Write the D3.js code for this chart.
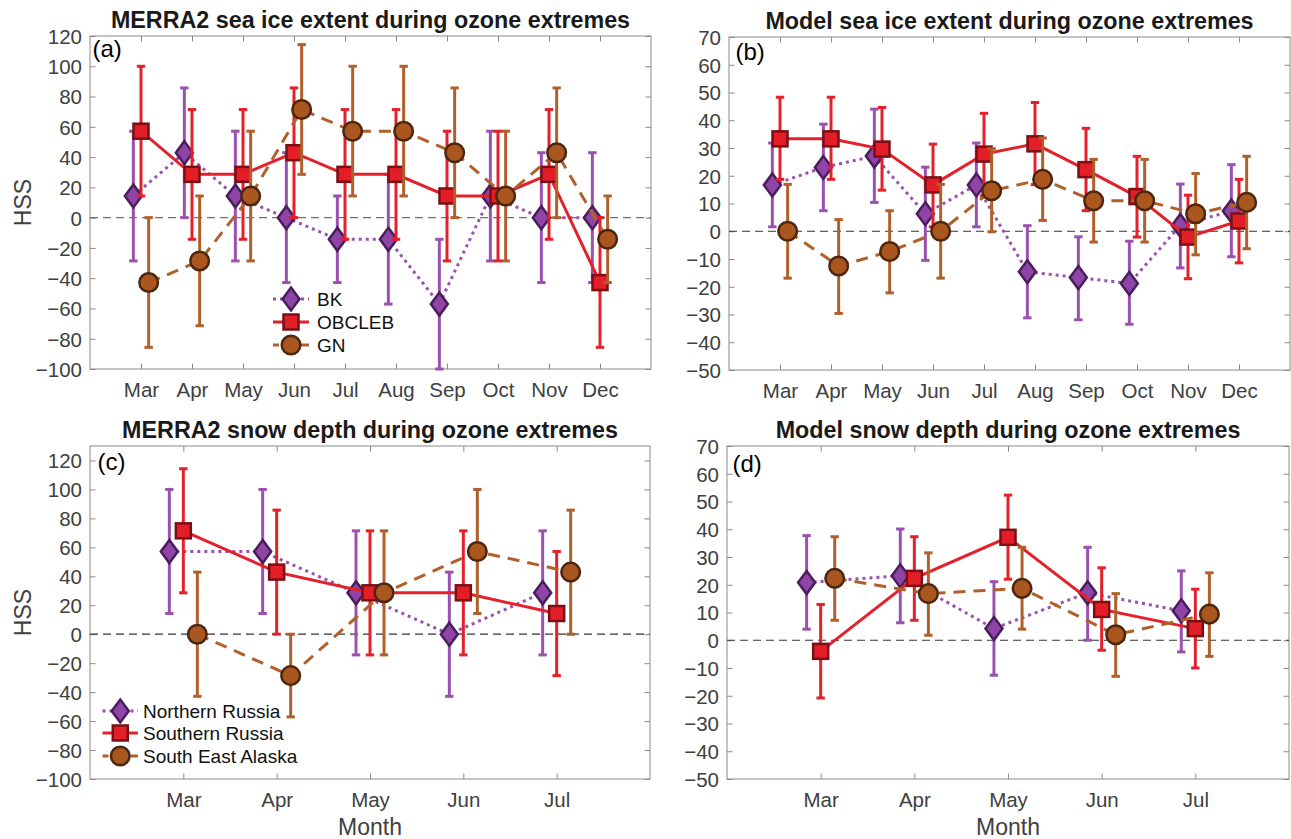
<!DOCTYPE html>
<html><head><meta charset="utf-8">
<script src="https://cdn.jsdelivr.net/npm/d3@7"></script>
<style>
body{margin:0;background:#fff;}
svg{display:block;font-family:"Liberation Sans",Arial,Helvetica,sans-serif;}
</style>
</head><body>
<svg id="chart" width="1291" height="839"></svg>
<script>
// ---------------- DATA ----------------
const monthsIce  = ["Mar","Apr","May","Jun","Jul","Aug","Sep","Oct","Nov","Dec"];
const monthsSnow = ["Mar","Apr","May","Jun","Jul"];
const namesIce   = ["BK","OBCLEB","GN"];
const namesSnow  = ["Northern Russia","Southern Russia","South East Alaska"];
const ticksIceObs  = [120,100,80,60,40,20,0,-20,-40,-60,-80,-100];
const ticksModel   = [70,60,50,40,30,20,10,0,-10,-20,-30,-40,-50];
const ticksSnowObs = [120,100,80,60,40,20,0,-20,-40,-60,-80,-100];

// (a) MERRA2 sea ice extent
const aBK    = [14.3, 42.9, 14.3, 0, -14.3, -14.3, -57.1, 14.3, 0, 0];
const aBKlo  = [-28.6, 0, -28.6, -42.9, -42.9, -57.1, -100, -28.6, -42.9, -42.9];
const aBKhi  = [57.1, 85.7, 57.1, 42.9, 14.3, 28.6, -14.3, 57.1, 42.9, 42.9];
const aOB    = [57.1, 28.6, 28.6, 42.9, 28.6, 28.6, 14.3, 14.3, 28.6, -42.9];
const aOBlo  = [14.3, -14.3, -14.3, 0, -14.3, -14.3, -28.6, -28.6, -14.3, -85.7];
const aOBhi  = [100, 71.4, 71.4, 85.7, 71.4, 71.4, 57.1, 57.1, 71.4, 0];
const aGN    = [-42.9, -28.6, 14.3, 71.4, 57.1, 57.1, 42.9, 14.3, 42.9, -14.3];
const aGNlo  = [-85.7, -71.4, -28.6, 28.6, 14.3, 14.3, 0, -28.6, 0, -42.9];
const aGNhi  = [0, 14.3, 57.1, 114.3, 100, 100, 85.7, 57.1, 85.7, 14.3];

// (b) Model sea ice extent
const bBK    = [16.7, 23.0, 27.1, 6.3, 16.7, -14.6, -16.7, -18.8, 2.1, 7.3];
const bBKlo  = [1.6, 7.4, 10.4, -10.5, 1.6, -31.2, -31.9, -33.5, -13.2, -9.2];
const bBKhi  = [31.8, 38.6, 44.0, 23.1, 31.8, 2.0, -2.0, -3.6, 17.0, 24.0];
const bOB    = [33.3, 33.3, 29.6, 16.7, 27.8, 31.5, 22.2, 12.5, -2.1, 3.7];
const bOBlo  = [18.7, 18.7, 14.8, 1.6, 12.6, 16.8, 7.4, -2.1, -17.1, -11.4];
const bOBhi  = [48.3, 48.3, 44.6, 31.4, 42.5, 46.4, 37.1, 27.0, 13.0, 18.7];
const bGN    = [0, -12.5, -7.3, 0, 14.6, 18.7, 11.0, 11.0, 6.3, 10.4];
const bGNlo  = [-16.9, -29.6, -22.2, -16.9, -0.2, 3.9, -3.9, -3.9, -8.5, -6.3];
const bGNhi  = [16.9, 4.2, 7.4, 16.9, 29.7, 33.6, 25.9, 25.9, 20.8, 27.0];

// (c) MERRA2 snow depth
const cNR    = [57.1, 57.1, 28.6, 0, 28.6];
const cNRlo  = [14.3, 14.3, -14.3, -42.9, -14.3];
const cNRhi  = [100, 100, 71.4, 42.9, 71.4];
const cSR    = [71.4, 42.9, 28.6, 28.6, 14.3];
const cSRlo  = [28.6, 0, -14.3, -14.3, -28.6];
const cSRhi  = [114.3, 85.7, 71.4, 71.4, 57.1];
const cSEA   = [0, -28.6, 28.6, 57.1, 42.9];
const cSEAlo = [-42.9, -57.1, -14.3, 14.3, 0];
const cSEAhi = [42.9, 0, 71.4, 100, 85.7];

// (d) Model snow depth
const dNR    = [20.8, 23.2, 4.2, 17.1, 10.6];
const dNRlo  = [4.0, 6.3, -12.6, 0, -4.2];
const dNRhi  = [37.7, 40.1, 21.1, 33.5, 25.0];
const dSR    = [-4.0, 22.3, 37.1, 11.1, 4.2];
const dSRlo  = [-20.8, 7.2, 22.0, -3.6, -10.0];
const dSRhi  = [12.9, 37.3, 52.3, 26.1, 18.4];
const dSEA   = [22.3, 16.8, 18.7, 2.0, 9.4];
const dSEAlo = [7.2, 1.8, 4.0, -13.0, -5.8];
const dSEAhi = [37.3, 31.5, 33.5, 16.8, 24.3];

// ---------------- STYLES / LAYOUT ----------------
const styles = [
  {line:"#9B51B0", err:"#9B51B0", dash:"3,4", marker:"diamond", fill:"#8E45A6", edge:"#4A1D5C"},
  {line:"#E4202A", err:"#E4202A", dash:null,  marker:"square",  fill:"#E31E26", edge:"#7A1015"},
  {line:"#B0602B", err:"#B0602B", dash:"12,8", marker:"circle", fill:"#A9561F", edge:"#4B2611"}
];
const offsets = [-0.15, 0, 0.15];

const panels = [
  {left:90, right:651, top:36, bottom:369, xDomain:[0,11], yDomain:[-100,120], ticks:ticksIceObs,
   months:monthsIce, names:namesIce,
   vals:[aBK,aOB,aGN], los:[aBKlo,aOBlo,aGNlo], his:[aBKhi,aOBhi,aGNhi],
   title:"MERRA2 sea ice extent during ozone extremes", label:"(a)", lx:92.5, ly:57,
   hss:true, month:false, zero:"#707070",
   legend:{x0:273, x1:309, tx:317, ys:[299,322,345]}},
  {left:729, right:1290, top:37, bottom:370, xDomain:[0,11], yDomain:[-50,70], ticks:ticksModel,
   months:monthsIce, names:namesIce,
   vals:[bBK,bOB,bGN], los:[bBKlo,bOBlo,bGNlo], his:[bBKhi,bOBhi,bGNhi],
   title:"Model sea ice extent during ozone extremes", label:"(b)", lx:735.5, ly:60,
   hss:false, month:false, zero:"#333", legend:null},
  {left:90, right:650, top:446, bottom:779, xDomain:[0,6], yDomain:[-100,130], ticks:ticksSnowObs,
   months:monthsSnow, names:namesSnow,
   vals:[cNR,cSR,cSEA], los:[cNRlo,cSRlo,cSEAlo], his:[cNRhi,cSRhi,cSEAhi],
   title:"MERRA2 snow depth during ozone extremes", label:"(c)", lx:97.5, ly:470,
   hss:true, month:true, zero:"#333",
   legend:{x0:102.5, x1:138, tx:143, ys:[711,733,756]}},
  {left:727, right:1289, top:446, bottom:779, xDomain:[0,6], yDomain:[-50,70], ticks:ticksModel,
   months:monthsSnow, names:namesSnow,
   vals:[dNR,dSR,dSEA], los:[dNRlo,dSRlo,dSEAlo], his:[dNRhi,dSRhi,dSEAhi],
   title:"Model snow depth during ozone extremes", label:"(d)", lx:732.5, ly:472,
   hss:false, month:true, zero:"#333", legend:null}
];

const svg = d3.select("#chart");
const axisColor = "#8a8a8a";
const tickText = "#404040";
const tickLen = 5.5;

function drawMarker(g, type, x, y, st){
  if(type === "diamond"){
    g.append("path").attr("d", `M${x},${y-11.5}L${x+8.5},${y}L${x},${y+11.5}L${x-8.5},${y}Z`)
      .attr("fill", st.fill).attr("stroke", st.edge).attr("stroke-width", 2.5);
  } else if(type === "square"){
    g.append("rect").attr("x", x-7.5).attr("y", y-7.5).attr("width", 15).attr("height", 15)
      .attr("fill", st.fill).attr("stroke", st.edge).attr("stroke-width", 2.5);
  } else {
    g.append("circle").attr("cx", x).attr("cy", y).attr("r", 9.3)
      .attr("fill", st.fill).attr("stroke", st.edge).attr("stroke-width", 2.5);
  }
}

panels.forEach(p => {
  const x = d3.scaleLinear().domain(p.xDomain).range([p.left, p.right]);
  const y = d3.scaleLinear().domain(p.yDomain).range([p.bottom, p.top]);
  const g = svg.append("g");
  const monthIdx = p.months.map((m,i)=>i+1);

  // axes via d3 (left & bottom) + mirrored ticks
  const yAxis = d3.axisLeft(y).tickValues(p.ticks).tickSize(-tickLen).tickPadding(8).tickFormat(d3.format("d"));
  const yAxisR = d3.axisRight(y).tickValues(p.ticks).tickSize(-tickLen).tickFormat("");
  const xAxis = d3.axisBottom(x).tickValues(monthIdx).tickSize(-tickLen).tickPadding(13)
                  .tickFormat(d => p.months[d-1]);
  const xAxisT = d3.axisTop(x).tickValues(monthIdx).tickSize(-tickLen).tickFormat("");

  const gy = g.append("g").attr("transform", `translate(${p.left},0)`).call(yAxis);
  const gyr = g.append("g").attr("transform", `translate(${p.right},0)`).call(yAxisR);
  const gx = g.append("g").attr("transform", `translate(0,${p.bottom})`).call(xAxis);
  const gxt = g.append("g").attr("transform", `translate(0,${p.top})`).call(xAxisT);
  [gy,gyr,gx,gxt].forEach(a => {
    a.select(".domain").remove();
    a.selectAll(".tick line").attr("stroke", axisColor).attr("stroke-width", 1);
    a.selectAll("text").attr("fill", tickText).style("font-size","20.5px")
      .style("font-family",'"Liberation Sans",Arial,sans-serif');
  });
  gy.selectAll("text").attr("dy","0.36em");
  gx.selectAll("text").attr("dy","0.71em");

  // box
  g.append("rect").attr("x", p.left).attr("y", p.top)
    .attr("width", p.right - p.left).attr("height", p.bottom - p.top)
    .attr("fill","none").attr("stroke", axisColor).attr("stroke-width", 1);

  // zero line
  g.append("line").attr("x1", p.left).attr("x2", p.right).attr("y1", y(0)).attr("y2", y(0))
    .attr("stroke", p.zero).attr("stroke-width", 1.2).attr("stroke-dasharray","8,5");

  // series
  p.vals.forEach((vals, s) => {
    const st = styles[s];
    const sg = g.append("g");
    const pts = vals.map((v,i) => ({x: x(i+1+offsets[s]), v, lo:p.los[s][i], hi:p.his[s][i]}));
    // error bars
    pts.forEach(d => {
      sg.append("line").attr("x1", d.x).attr("x2", d.x).attr("y1", y(d.lo)).attr("y2", y(d.hi))
        .attr("stroke", st.err).attr("stroke-width", 3);
      [d.lo, d.hi].forEach(e => {
        sg.append("line").attr("x1", d.x-4.2).attr("x2", d.x+4.2).attr("y1", y(e)).attr("y2", y(e))
          .attr("stroke", st.err).attr("stroke-width", 3);
      });
    });
    // connecting line
    const line = d3.line().x(d => d.x).y(d => y(d.v));
    const path = sg.append("path").datum(pts).attr("d", line).attr("fill","none")
      .attr("stroke", st.line).attr("stroke-width", 3);
    if(st.dash) path.attr("stroke-dasharray", st.dash);
    // markers
    pts.forEach(d => drawMarker(sg, st.marker, d.x, y(d.v), st));
  });

  // title
  g.append("text").attr("x", (p.left + p.right)/2).attr("y", p.top - 8.5)
    .attr("text-anchor","middle").style("font-size","23.3px").style("font-weight","bold")
    .attr("fill","#1a1a1a").text(p.title);

  // panel label
  g.append("text").attr("x", p.lx).attr("y", p.ly).style("font-size","24px")
    .attr("fill","#000").text(p.label);

  // HSS
  if(p.hss){
    g.append("text").attr("transform", `translate(31,${(p.top+p.bottom)/2}) rotate(-90)`)
      .attr("text-anchor","middle").style("font-size","23px").attr("fill", tickText).text("HSS");
  }
  if(p.month){
    g.append("text").attr("x", (p.left+p.right)/2).attr("y", 835)
      .attr("text-anchor","middle").style("font-size","23px").attr("fill", tickText).text("Month");
  }

  // legend
  if(p.legend){
    const L = p.legend;
    p.names.forEach((nm, s) => {
      const st = styles[s];
      const yy = L.ys[s];
      const ln = g.append("line").attr("x1", L.x0).attr("x2", L.x1).attr("y1", yy).attr("y2", yy)
        .attr("stroke", st.line).attr("stroke-width", 3);
      if(st.dash) ln.attr("stroke-dasharray", st.dash === "12,8" ? "6,22,10" : st.dash);
      drawMarker(g, st.marker, (L.x0+L.x1)/2, yy, st);
      g.append("text").attr("x", L.tx).attr("y", yy + 6.8).style("font-size","19px")
        .attr("fill","#111").text(nm);
    });
  }
});
</script>
</body></html>
